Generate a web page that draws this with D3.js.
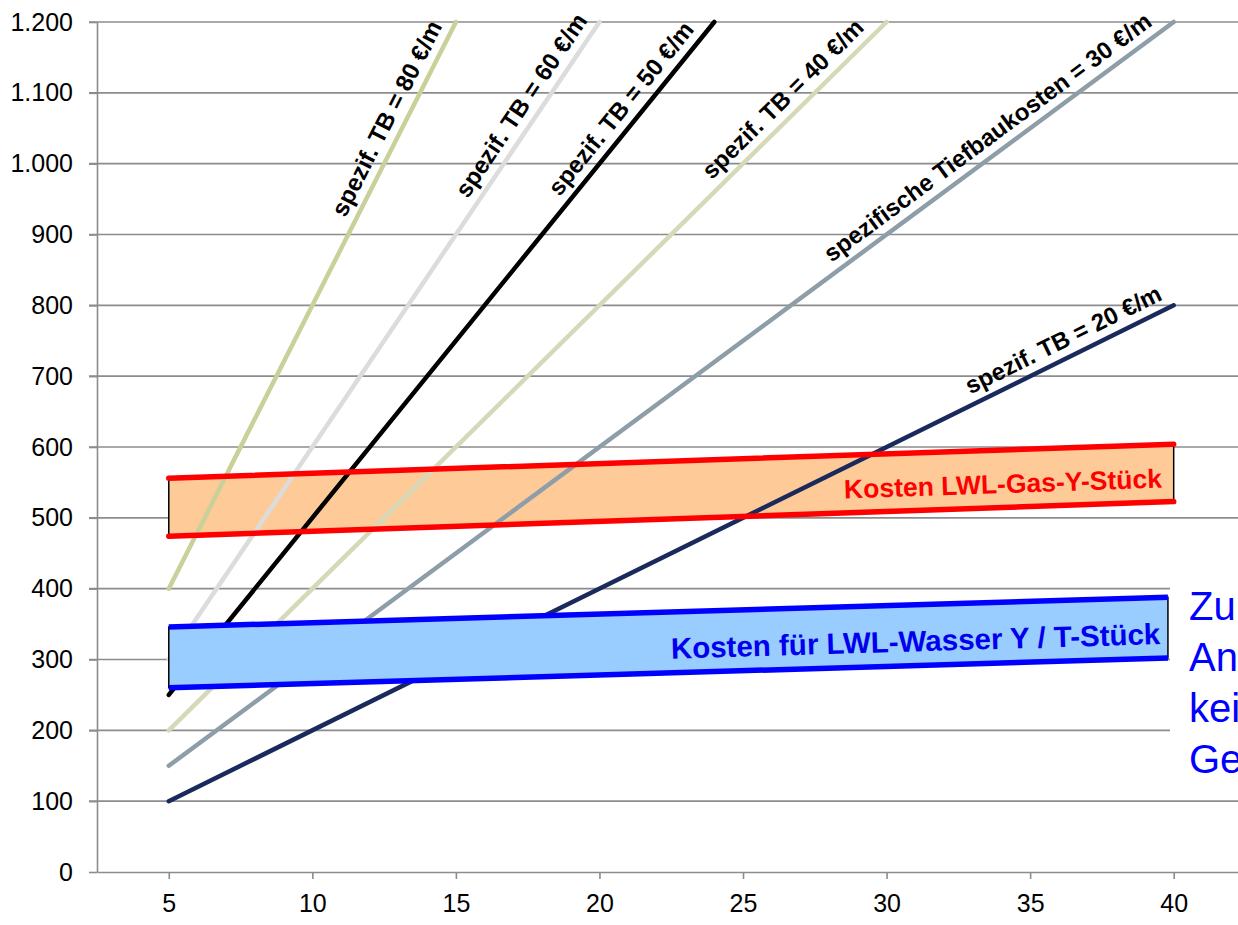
<!DOCTYPE html>
<html lang="de">
<head>
<meta charset="UTF-8">
<title>Tiefbaukosten</title>
<script src="https://cdn.jsdelivr.net/npm/d3@7"></script>
<style>
  body { margin: 0; background: #fff; }
  svg { display: block; font-family: "Liberation Sans", Arial, sans-serif; }
</style>
</head>
<body>
<div id="chart"></div>
<script>
// x: Länge (m), y: Kosten (€)
var xTicks = [5, 10, 15, 20, 25, 30, 35, 40];
var yTicks = [0, 100, 200, 300, 400, 500, 600, 700, 800, 900, 1000, 1100, 1200];

// spezifische Tiefbaukosten-Geraden: Start bei x=5, Ende (x, y)
var tbRates  = [80, 60, 50, 40, 30, 20];
var tbStartY = [400, 300, 250, 200, 150, 100];
var tbEndX   = [15, 20, 24, 30, 40, 40];
var tbEndY   = [1200, 1200, 1200, 1200, 1200, 800];
var tbColors = ["#c9d09a", "#dcdcdc", "#000000", "#d6d9b8", "#8e9ea8", "#1b2a5c"];
var tbLabels = ["spezif. TB = 80 €/m", "spezif. TB = 60 €/m", "spezif. TB = 50 €/m",
                "spezif. TB = 40 €/m", "spezifische Tiefbaukosten = 30 €/m", "spezif. TB = 20 €/m"];
var tbLabelX = [14.85, 19.9, 23.6, 29.5, 39.5, 39.8];

// Bänder: [x links, x rechts], obere und untere Kante
var gasX = [5, 40], gasTop = [556, 604], gasBottom = [474, 523];
var waterX = [5, 39.8], waterTop = [346, 388], waterBottom = [260, 302];

var W = 1238, H = 925;
var svg = d3.select("#chart").append("svg").attr("width", W).attr("height", H);

var x = d3.scaleLinear().domain([2.5, 42.24]).range([97, 1238]);
var y = d3.scaleLinear().domain([0, 1200]).range([872, 22]);
var fmt = d3.formatLocale({ decimal: ",", thousands: ".", grouping: [3], currency: ["", "€"] }).format(",d");

// gridlines
svg.append("g").selectAll("line").data(yTicks.slice(1)).enter().append("line")
  .attr("x1", 89).attr("x2", W)
  .attr("y1", function (d) { return y(d); }).attr("y2", function (d) { return y(d); })
  .attr("stroke", "#8c8c8c").attr("stroke-width", 1.6);

// axes
var yAxis = svg.append("g").attr("transform", "translate(97,0)")
  .call(d3.axisLeft(y).tickValues(yTicks).tickFormat(fmt).tickSize(8).tickSizeOuter(0).tickPadding(16));
var xAxis = svg.append("g").attr("transform", "translate(0,872)")
  .call(d3.axisBottom(x).tickValues(xTicks).tickSize(7).tickSizeOuter(0).tickPadding(15));
[yAxis, xAxis].forEach(function (a) {
  a.selectAll("path, line").attr("stroke", "#8c8c8c").attr("stroke-width", 1.6);
  a.selectAll("text").attr("font-size", 25).attr("fill", "#000")
    .style("font-family", "'Liberation Sans', Arial, sans-serif");
});

function bandPoly(xs, top, bottom) {
  return [[x(xs[0]), y(top[0])], [x(xs[1]), y(top[1])], [x(xs[1]), y(bottom[1])], [x(xs[0]), y(bottom[0])]];
}

// Gas band fill (below lines)
svg.append("polygon")
  .attr("points", bandPoly(gasX, gasTop, gasBottom).join(" "))
  .attr("fill", "#fdca98").attr("stroke", "#000").attr("stroke-width", 1.5);

// TB lines
var line = d3.line().x(function (d) { return x(d[0]); }).y(function (d) { return y(d[1]); });
tbRates.forEach(function (r, i) {
  svg.append("path")
    .attr("d", line([[5, tbStartY[i]], [tbEndX[i], tbEndY[i]]]))
    .attr("fill", "none").attr("stroke", tbColors[i]).attr("stroke-width", 4.5)
    .attr("stroke-linecap", "round");
});

// Gas band edges
[gasTop, gasBottom].forEach(function (e) {
  svg.append("path").attr("d", line([[gasX[0], e[0]], [gasX[1], e[1]]]))
    .attr("stroke", "#ff0000").attr("stroke-width", 5.5).attr("stroke-linecap", "round").attr("fill", "none");
});

// Water band (opaque, on top)
svg.append("polygon")
  .attr("points", bandPoly(waterX, waterTop, waterBottom).join(" "))
  .attr("fill", "#99ccff").attr("stroke", "#000").attr("stroke-width", 1.5);
[waterTop, waterBottom].forEach(function (e) {
  svg.append("path").attr("d", line([[waterX[0], e[0]], [waterX[1], e[1]]]))
    .attr("stroke", "#0000ff").attr("stroke-width", 5.5).attr("fill", "none");
});

// line labels
tbRates.forEach(function (r, i) {
  var px = x(tbLabelX[i]), py = y(tbStartY[i] + (tbLabelX[i] - 5) * (tbEndY[i] - tbStartY[i]) / (tbEndX[i] - 5));
  var ang = Math.atan2(y(tbStartY[i]) - y(tbEndY[i]), x(tbEndX[i]) - x(5)) * 180 / Math.PI;
  svg.append("text")
    .attr("transform", "translate(" + px + "," + py + ") rotate(" + (-ang) + ")")
    .attr("dy", -10).attr("text-anchor", "end")
    .attr("font-size", 24).attr("font-weight", "bold").attr("fill", "#000")
    .text(tbLabels[i]);
});

// band labels
function bandLabel(xs, top, bottom, txt, color, size, dx, dy) {
  var ang = Math.atan2(y(bottom[0]) - y(bottom[1]), x(xs[1]) - x(xs[0])) * 180 / Math.PI;
  var px = x(xs[1]) + dx, py = y(bottom[1]);
  svg.append("text")
    .attr("transform", "translate(" + px + "," + py + ") rotate(" + (-ang) + ")")
    .attr("dy", dy).attr("text-anchor", "end")
    .attr("font-size", size).attr("font-weight", "bold").attr("fill", color)
    .text(txt);
}
bandLabel(gasX, gasTop, gasBottom, "Kosten LWL-Gas-Y-Stück", "#ff0000", 26.5, -11, -14);
bandLabel(waterX, waterTop, waterBottom, "Kosten für LWL-Wasser Y / T-Stück", "#0000ee", 29.5, -7, -14);

// side note (cut off at the right edge)
var noteLines = ["Zu", "An", "kei", "Ge"];
svg.append("rect").attr("x", 1170).attr("y", 580).attr("width", 80).attr("height", 206).attr("fill", "#fff");
svg.append("g").selectAll("text").data(noteLines).enter().append("text")
  .attr("x", 1189).attr("y", function (d, i) { return 620 + i * 51; })
  .attr("font-size", 40).attr("fill", "#0000ff")
  .text(function (d) { return d; });
</script>
</body>
</html>
